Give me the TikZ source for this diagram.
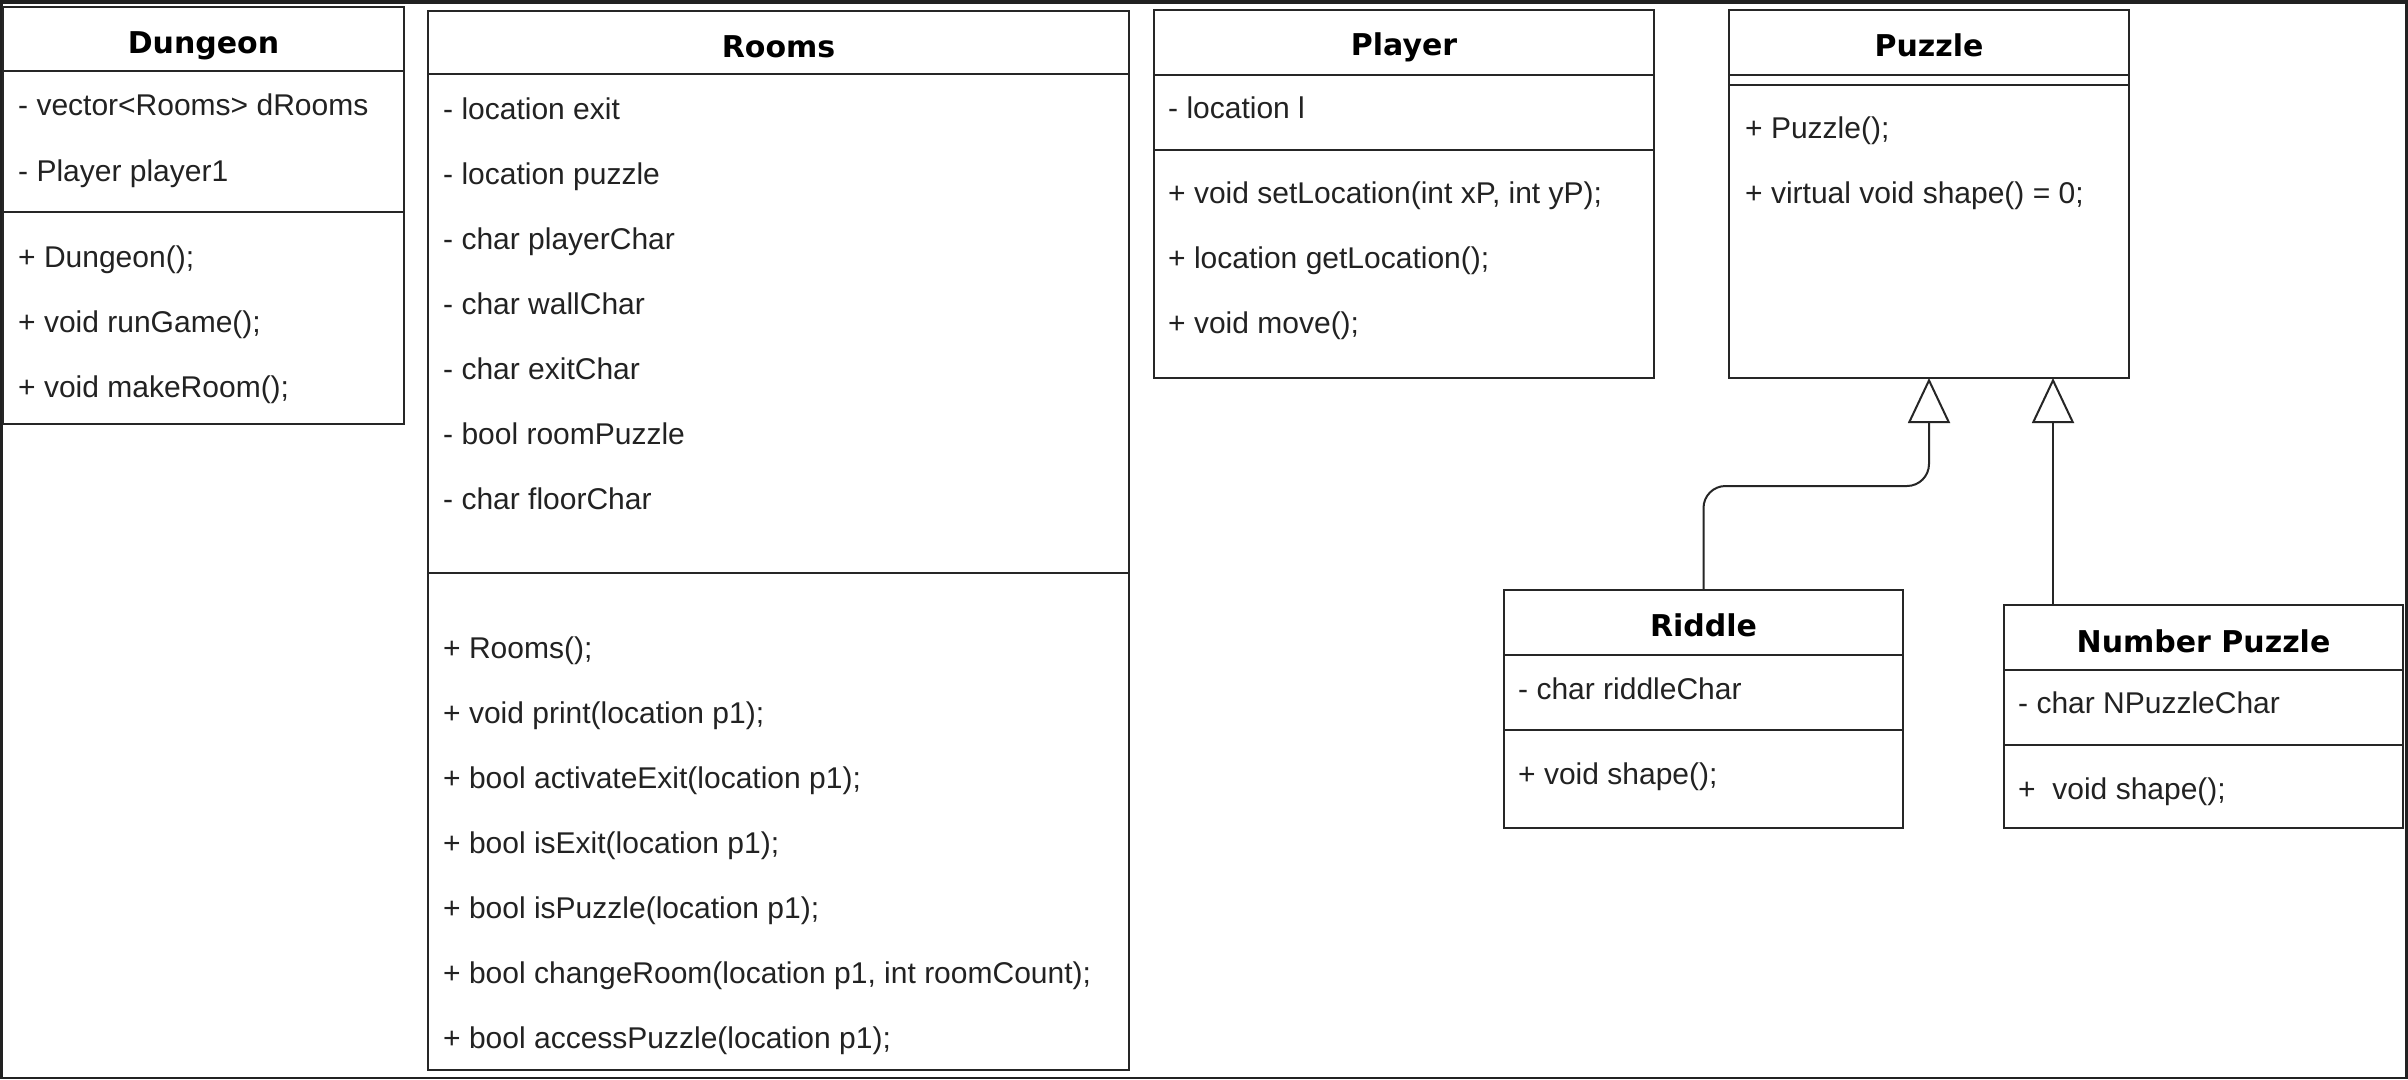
\documentclass[tikz,border=0pt]{standalone}
\usepackage{fontspec}
\setmainfont{Liberation Sans}
\newfontfamily\titlefont{DejaVu Sans}
\usetikzlibrary{arrows.meta}
\definecolor{framec}{HTML}{212121}
\definecolor{linec}{HTML}{262626}
\definecolor{textc}{HTML}{222222}
\tikzset{
  box/.style={draw=linec, line width=2pt, fill=white, anchor=north west, inner sep=0pt, outer sep=0pt},
  ttl/.style={font=\titlefont\bfseries\fontsize{30}{36}\selectfont, anchor=base, inner sep=0pt, text=black},
  itm/.style={font=\fontsize{30}{36}\selectfont, anchor=base west, inner sep=0pt, text=textc},
  sepline/.style={draw=linec, line width=2pt},
  inh/.style={draw=linec, line width=2pt, -{Triangle[open, width=42pt, length=45pt]}, rounded corners=22pt}
}
\begin{document}
\begin{tikzpicture}[x=1pt,y=-1pt]
\fill[framec] (0,0) rectangle (2408,1079);
\fill[white] (3,4) rectangle (2405,1077);
\useasboundingbox (0,0) rectangle (2408,1079);

% Dungeon
\node[box, minimum width=401pt, minimum height=417pt] (dungeon) at (3,7) {};
\draw[sepline] (dungeon.west |- 0,71) -- (dungeon.east |- 0,71);
\draw[sepline] (dungeon.west |- 0,212) -- (dungeon.east |- 0,212);
\node[ttl] (dungeonT) at (dungeon.north |- 0,53) {Dungeon};
\node[itm] (d1) at (18,115) {- vector<Rooms> dRooms};
\node[itm] (d2) at (18,181) {- Player player1};
\node[itm] (d3) at (18,267) {+ Dungeon();};
\node[itm] (d4) at (18,332) {+ void runGame();};
\node[itm] (d5) at (18,397) {+ void makeRoom();};

% Rooms
\node[box, minimum width=701pt, minimum height=1059pt] (rooms) at (428,11) {};
\draw[sepline] (rooms.west |- 0,74) -- (rooms.east |- 0,74);
\draw[sepline] (rooms.west |- 0,573) -- (rooms.east |- 0,573);
\node[ttl] (roomsT) at (rooms.north |- 0,57) {Rooms};
\node[itm] (r1) at (443,119) {- location exit};
\node[itm] (r2) at (443,184) {- location puzzle};
\node[itm] (r3) at (443,249) {- char playerChar};
\node[itm] (r4) at (443,314) {- char wallChar};
\node[itm] (r5) at (443,379) {- char exitChar};
\node[itm] (r6) at (443,444) {- bool roomPuzzle};
\node[itm] (r7) at (443,509) {- char floorChar};
\node[itm] (r8) at (443,658) {+ Rooms();};
\node[itm] (r9) at (443,723) {+ void print(location p1);};
\node[itm] (r10) at (443,788) {+ bool activateExit(location p1);};
\node[itm] (r11) at (443,853) {+ bool isExit(location p1);};
\node[itm] (r12) at (443,918) {+ bool isPuzzle(location p1);};
\node[itm] (r13) at (443,983) {+ bool changeRoom(location p1, int roomCount);};
\node[itm] (r14) at (443,1048) {+ bool accessPuzzle(location p1);};

% Player
\node[box, minimum width=500pt, minimum height=368pt] (player) at (1154,10) {};
\draw[sepline] (player.west |- 0,75) -- (player.east |- 0,75);
\draw[sepline] (player.west |- 0,150) -- (player.east |- 0,150);
\node[ttl] (playerT) at (player.north |- 0,55) {Player};
\node[itm] (p1) at (1168,118) {- location l};
\node[itm] (p2) at (1168,203) {+ void setLocation(int xP, int yP);};
\node[itm] (p3) at (1168,268) {+ location getLocation();};
\node[itm] (p4) at (1168,333) {+ void move();};

% Puzzle
\node[box, minimum width=400pt, minimum height=368pt] (puzzle) at (1729,10) {};
\draw[sepline] (puzzle.west |- 0,75) -- (puzzle.east |- 0,75);
\draw[sepline] (puzzle.west |- 0,85) -- (puzzle.east |- 0,85);
\node[ttl] (puzzleT) at (puzzle.north |- 0,56) {Puzzle};
\node[itm] (z1) at (1745,138) {+ Puzzle();};
\node[itm] (z2) at (1745,203) {+ virtual void shape() = 0;};

% Riddle
\node[box, minimum width=399pt, minimum height=238pt] (riddle) at (1504,590) {};
\draw[sepline] (riddle.west |- 0,655) -- (riddle.east |- 0,655);
\draw[sepline] (riddle.west |- 0,730) -- (riddle.east |- 0,730);
\node[ttl] (riddleT) at (riddle.north |- 0,636) {Riddle};
\node[itm] (q1) at (1518,699) {- char riddleChar};
\node[itm] (q2) at (1518,784) {+ void shape();};

% Number Puzzle
\node[box, minimum width=399pt, minimum height=223pt] (npuzzle) at (2004,605) {};
\draw[sepline] (npuzzle.west |- 0,670) -- (npuzzle.east |- 0,670);
\draw[sepline] (npuzzle.west |- 0,745) -- (npuzzle.east |- 0,745);
\node[ttl] (npuzzleT) at (npuzzle.north |- 0,652) {Number Puzzle};
\node[itm] (n1) at (2018,713) {- char NPuzzleChar};
\node[itm] (n2) at (2018,799) {+\ \ void shape();};

% Inheritance
\draw[inh] (riddle.north) -- (riddle.north |- 0,486) -- (puzzle.south |- 0,486) -- (puzzle.south);
\coordinate (npTop) at (npuzzle.north -| 2053,0);
\coordinate (pzBot) at (puzzle.south -| 2053,0);
\draw[inh] (npTop) -- (pzBot);
\end{tikzpicture}
\end{document}
